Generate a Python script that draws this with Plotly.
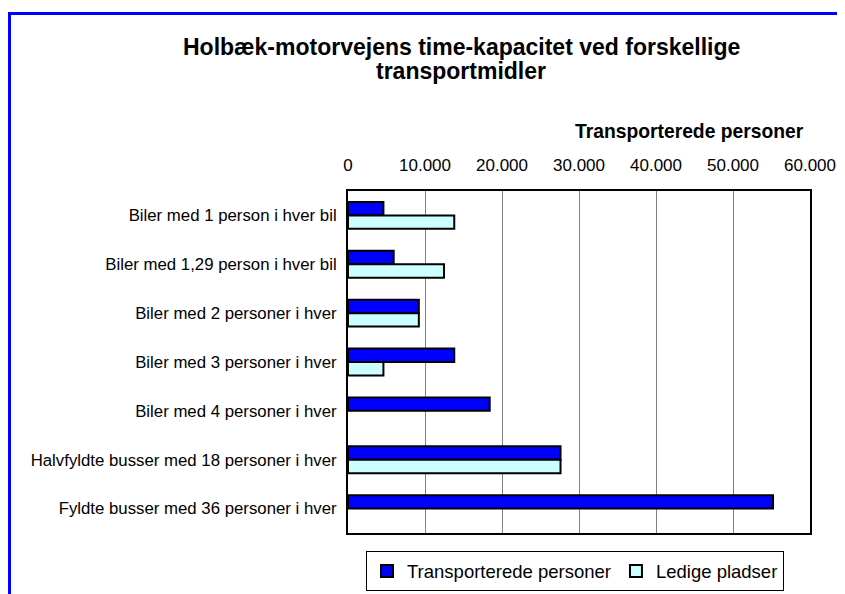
import plotly.graph_objects as go

categories = [
    "Biler med 1 person i hver bil",
    "Biler med 1,29 person i hver bil",
    "Biler med 2 personer i hver",
    "Biler med 3 personer i hver",
    "Biler med 4 personer i hver",
    "Halvfyldte busser med 18 personer i hver",
    "Fyldte busser med 36 personer i hver",
]
transporterede = [4600, 5934, 9200, 13800, 18400, 27600, 55200]
ledige = [13800, 12466, 9200, 4600, 0, 27600, 0]
tick_vals = [0, 10000, 20000, 30000, 40000, 50000, 60000]

FONT = "Liberation Sans, Arial, sans-serif"

# plot area in reference pixel coordinates
PL, PR, PT, PB = 348, 810, 191, 534
PW, PH = PR - PL, PB - PT


def px(x):
    return (x - PL) / PW


def py(y):
    return (PB - y) / PH


fig = go.Figure()
fig.add_trace(go.Bar(
    y=categories, x=transporterede, orientation="h", name="Transporterede personer",
    marker=dict(color="#0000FF",
                line=dict(color="black", width=[2 if v > 0 else 0 for v in transporterede])),
))
fig.add_trace(go.Bar(
    y=categories, x=ledige, orientation="h", name="Ledige pladser",
    marker=dict(color="#CCFFFF",
                line=dict(color="black", width=[2 if v > 0 else 0 for v in ledige])),
))

OFF = 8  # page body margin
fig.update_layout(
    width=845, height=594,
    margin=dict(l=PL - OFF, r=845 + OFF - PR, t=PT - OFF, b=594 + OFF - PB),
    paper_bgcolor="white", plot_bgcolor="white",
    separators=",.",
    barmode="group", bargap=0.45, bargroupgap=0,
    font=dict(family=FONT, color="black", size=16),
    showlegend=True,
    xaxis=dict(
        side="top", range=[0, 60000], tickvals=tick_vals, tickformat=",d",
        showgrid=True, gridcolor="#808080", gridwidth=1, zeroline=False,
        showline=True, mirror=True, linecolor="black", linewidth=2,
        ticks="", ticklabelstandoff=11,
        tickfont=dict(family=FONT, size=17),
    ),
    yaxis=dict(
        autorange="reversed", showgrid=False, zeroline=False,
        showline=True, mirror=True, linecolor="black", linewidth=2,
        ticks="", ticklabelstandoff=6,
        tickfont=dict(family=FONT, size=16.8),
    ),
    legend=dict(
        orientation="h", x=px(575), xanchor="center", y=-0.051, yanchor="top",
        bordercolor="black", borderwidth=1, bgcolor="white",
        font=dict(family=FONT, size=18.5), itemwidth=30, traceorder="normal",
    ),
    annotations=[
        dict(text="<b>Holbæk-motorvejens time-kapacitet ved forskellige</b>",
             xref="paper", yref="paper", x=px(461), xanchor="center",
             y=py(47), yanchor="middle", showarrow=False,
             font=dict(family=FONT, size=23, color="black")),
        dict(text="<b>transportmidler</b>",
             xref="paper", yref="paper", x=px(461), xanchor="center",
             y=py(71), yanchor="middle", showarrow=False,
             font=dict(family=FONT, size=23, color="black")),
        dict(text="<b>Transporterede personer</b>", xref="paper", yref="paper",
             x=px(806), xanchor="right", y=py(131), yanchor="middle",
             showarrow=False, font=dict(family=FONT, size=19.3, color="black")),
    ],
    shapes=[dict(
        type="rect", xref="paper", yref="paper",
        x0=px(9.5), x1=px(900), y0=py(650), y1=py(13),
        line=dict(color="#0000FF", width=3), fillcolor="rgba(0,0,0,0)", layer="above",
    )],
)

fig.write_html("out.html")
